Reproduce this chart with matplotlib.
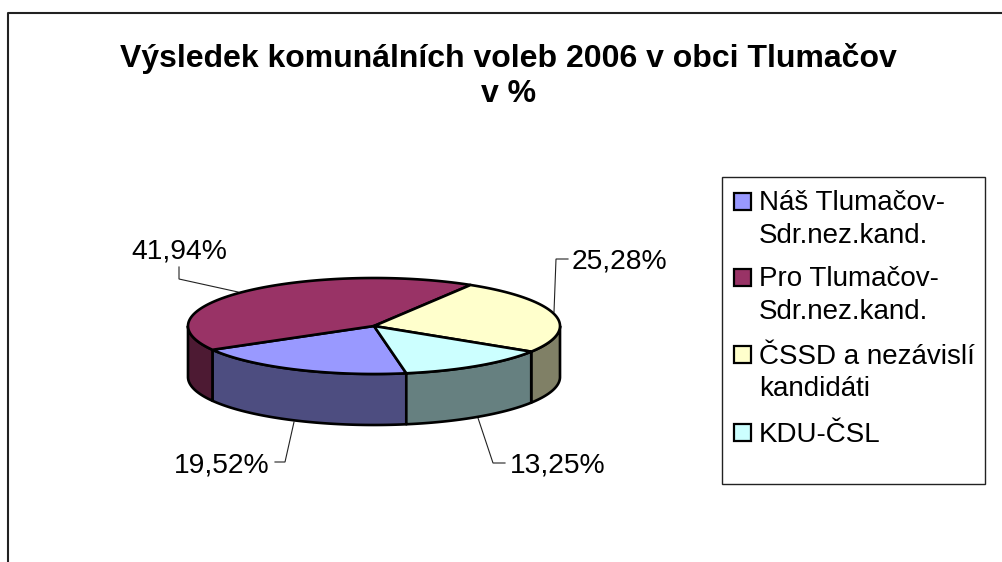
import numpy as np
import matplotlib
matplotlib.use("Agg")
import matplotlib.pyplot as plt
from matplotlib.patches import Polygon, Rectangle

plt.rcParams['font.family'] = ['Liberation Sans', 'DejaVu Sans']

title = "Výsledek komunálních voleb 2006 v obci Tlumačov\nv %"
names = ["Náš Tlumačov-\nSdr.nez.kand.", "Pro Tlumačov-\nSdr.nez.kand.",
         "ČSSD a nezávislí\nkandidáti", "KDU-ČSL"]
values = [19.52, 41.94, 25.28, 13.25]
value_labels = ["19,52%", "41,94%", "25,28%", "13,25%"]
top_colors = ["#9999FF", "#993366", "#FFFFCC", "#CCFFFF"]
side_colors = ["#4D4D80", "#4D1A33", "#808066", "#668080"]

W, H = 1002, 562
fig = plt.figure(figsize=(W / 100, H / 100), dpi=100)
ax = fig.add_axes([0, 0, 1, 1])
ax.set_xlim(0, W)
ax.set_ylim(H, 0)
ax.axis("off")

# chart frame (cropped at right and bottom)
ax.plot([8.5, 8.5, W + 5], [H + 5, 12.5, 12.5], color="#222222", lw=1.5, solid_capstyle="butt")

ax.text(508.5, 76, title, ha="center", va="center", fontsize=23, fontweight="bold",
        linespacing=1.2, color="black")

# pie geometry (pixels)
cx, cy, rx, ry, depth = 374, 326, 186, 48, 51
start = -80.0  # angle where the first slice begins, going clockwise
fr = np.array(values) / sum(values) * 360
edges = start - np.concatenate([[0], np.cumsum(fr)])


def arc(a, b, n=120):
    t = np.radians(np.linspace(a, b, n))
    return cx + rx * np.cos(t), cy - ry * np.sin(t)


lw = 1.9
# side walls: only the front half of the rim, angles in (-180, 0), is visible
for i in range(len(values)):
    for turn in (0, 360):
        hi = min(edges[i] + turn, 0)
        lo = max(edges[i + 1] + turn, -180)
        if hi > lo:
            x, y = arc(hi, lo)
            pts = np.column_stack([np.r_[x, x[::-1]], np.r_[y, y[::-1] + depth]])
            ax.add_patch(Polygon(pts, closed=True, fc=side_colors[i], ec="black", lw=lw,
                                 joinstyle="round", zorder=2))

# top faces
for i in range(len(values)):
    x, y = arc(edges[i], edges[i + 1])
    pts = np.column_stack([np.r_[cx, x], np.r_[cy, y]])
    ax.add_patch(Polygon(pts, closed=True, fc=top_colors[i], ec="black", lw=lw,
                         joinstyle="round", zorder=3))

# value labels with leader lines
label_pos = [(222, 465), (179, 251), (619, 262), (558, 466)]
leaders = [[(275, 462), (285, 462), (294, 422)],
           [(179, 267), (179, 279), (238, 292)],
           [(568, 259), (556, 259), (554, 312)],
           [(505, 463), (493, 463), (478, 418)]]
for s, p, l in zip(value_labels, label_pos, leaders):
    ax.text(p[0], p[1], s, ha="center", va="center", fontsize=20.3, color="black")
    ax.plot(*zip(*l), color="#222222", lw=0.8, zorder=1, solid_joinstyle="miter")

# legend
ax.add_patch(Rectangle((722, 177), 263, 307, fc="white", ec="#222222", lw=1.0, zorder=1))
legend_y = [201, 277, 354, 432]
for n, c, yy in zip(names, top_colors, legend_y):
    ax.add_patch(Rectangle((734.5, yy - 8.5), 17, 17, fc=c, ec="black", lw=1.6, zorder=3))
    for j, line in enumerate(n.split("\n")):
        ax.text(759, yy + 2.5 + j * 32.5, line, ha="left", va="center", fontsize=20, color="black")

fig.savefig("out.png", dpi=100)
